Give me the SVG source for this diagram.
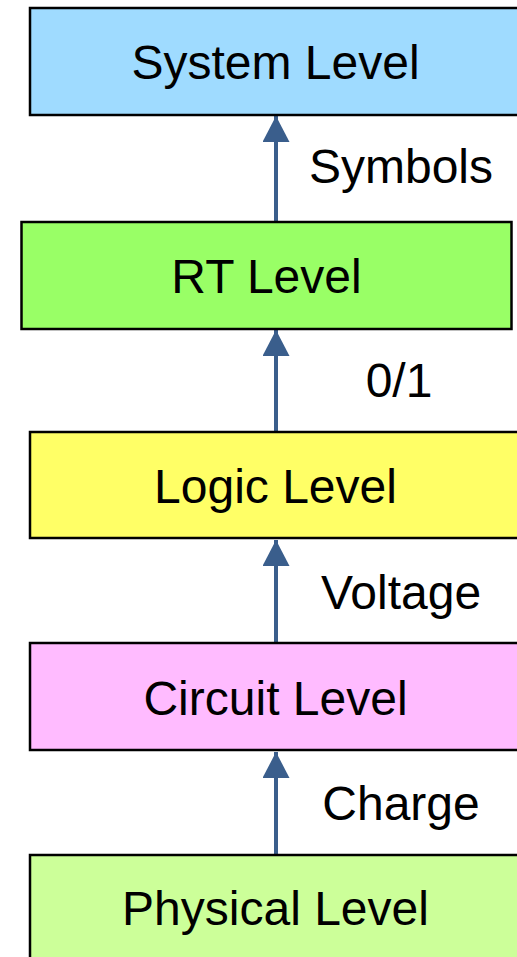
<svg xmlns="http://www.w3.org/2000/svg" width="517" height="957" viewBox="0 0 517 957">
  <style>
    .box { stroke: #000; stroke-width: 2.5; }
    .name { font-family: "Liberation Sans", Arial, sans-serif; font-size: 48px; fill: #000; text-anchor: middle; }
    .lbl { font-family: "Liberation Sans", Arial, sans-serif; font-size: 48px; fill: #000; text-anchor: middle; }
    .link { stroke: #3a5e8c; stroke-width: 4; fill: none; marker-end: url(#head); }
  </style>
  <defs>
    <marker id="head" markerUnits="userSpaceOnUse" markerWidth="27" markerHeight="27" viewBox="0 0 27 27" refX="26" refY="13.5" orient="auto">
      <path d="M0,0 L26,13.5 L0,27 Z" fill="#3a5e8c"/>
    </marker>
  </defs>

  <rect width="517" height="957" fill="#fff"/>

  <g id="connectors">
    <line class="link" x1="276" y1="855" x2="276" y2="752"/>
    <line class="link" x1="276" y1="643" x2="276" y2="540"/>
    <line class="link" x1="276" y1="432" x2="276" y2="330"/>
    <line class="link" x1="276" y1="222" x2="276" y2="116"/>
    <text class="lbl" x="401" y="183">Symbols</text>
    <text class="lbl" x="399" y="397">0/1</text>
    <text class="lbl" x="401" y="609">Voltage</text>
    <text class="lbl" x="401" y="820">Charge</text>
  </g>

  <g id="system">
    <rect class="box" x="30" y="8" width="491" height="107" fill="#9fdbff"/>
    <text class="name" x="275.5" y="79">System Level</text>
  </g>
  <g id="rt">
    <rect class="box" x="21.5" y="222" width="490" height="107" fill="#99ff66"/>
    <text class="name" x="266.5" y="293">RT Level</text>
  </g>
  <g id="logic">
    <rect class="box" x="30" y="432" width="491" height="106" fill="#ffff66"/>
    <text class="name" x="275.5" y="503">Logic Level</text>
  </g>
  <g id="circuit">
    <rect class="box" x="30" y="643" width="491" height="107" fill="#ffbbff"/>
    <text class="name" x="275.5" y="715">Circuit Level</text>
  </g>
  <g id="physical">
    <rect class="box" x="30" y="855" width="491" height="107" fill="#ccff99"/>
    <text class="name" x="275.5" y="925">Physical Level</text>
  </g>
</svg>
